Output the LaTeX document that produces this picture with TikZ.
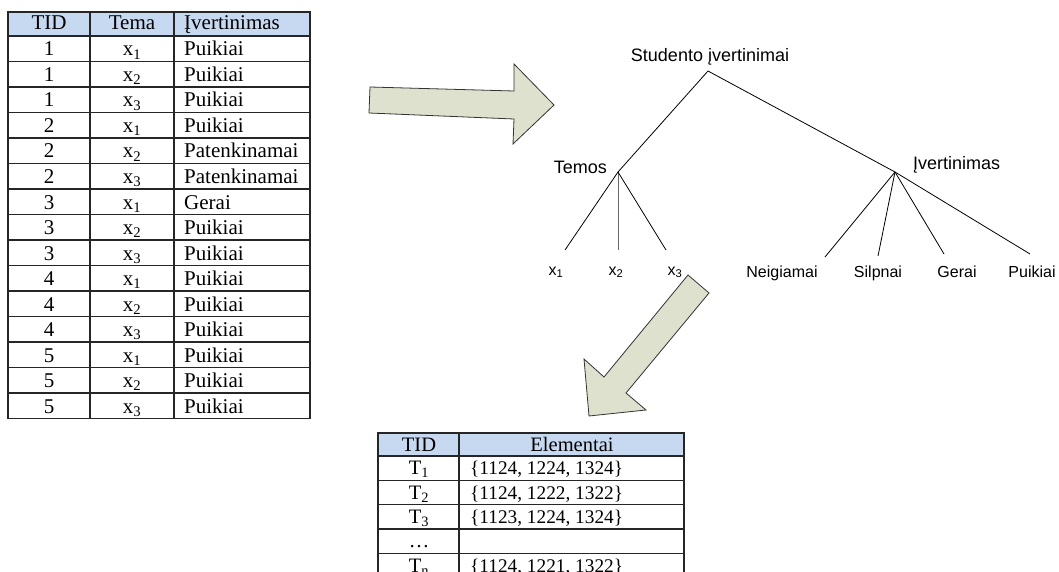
\documentclass[tikz,border=0pt]{standalone}
\usepackage{fontspec}
\setmainfont{Liberation Serif}
\newfontfamily\arialf{Liberation Sans}
\definecolor{headblue}{RGB}{198,217,241}
\definecolor{arrowfill}{RGB}{221,225,206}
\begin{document}
\begin{tikzpicture}[x=1pt,y=-1pt,
  grid/.style={line width=1.3pt, draw=black!85},
  tcell/.style={font=\fontsize{21}{21}\selectfont, inner sep=0pt, anchor=base},
  bcell/.style={font=\fontsize{20.5}{20.5}\selectfont, inner sep=0pt, anchor=base},
  bdata/.style={font=\fontsize{19.3}{19.3}\selectfont, inner sep=0pt, anchor=base west},
  tl/.style={font=\arialf\fontsize{18}{18}\selectfont, inner sep=0pt, anchor=base},
  leaf/.style={font=\arialf\fontsize{16}{16}\selectfont, inner sep=0pt, anchor=base},
  branch/.style={line width=0.8pt, draw=black},
  bigarrow/.style={fill=arrowfill, draw=black!80, line width=0.8pt, line join=miter}]
\useasboundingbox (0,0) rectangle (1059,572);
\clip (0,0) rectangle (1059,572);
\fill[white] (0,0) rectangle (1059,572);

% ---------- left table ----------
\fill[headblue] (8,12) rectangle (310,36);
\foreach \i in {0,1,2,3,4,5,6,7,8,9,10,11,12,13,14} \draw[grid] (8,{36+25.5*\i}) -- (310,{36+25.5*\i});
\draw[grid] (90,12) -- (90,418.5);
\draw[grid] (174,12) -- (174,418.5);
\draw[grid] (8,12) rectangle (310,418.5);
\node[tcell] (lh1) at (49,30) {TID};
\node[tcell] (lh2) at (132,30) {Tema};
\node[tcell,anchor=base west] (lh3) at (184,30) {Įvertinimas};
\foreach \t/\x/\v [count=\i] in {1/1/Puikiai,1/2/Puikiai,1/3/Puikiai,
  2/1/Puikiai,2/2/Patenkinamai,2/3/Patenkinamai,3/1/Gerai,3/2/Puikiai,3/3/Puikiai,
  4/1/Puikiai,4/2/Puikiai,4/3/Puikiai,5/1/Puikiai,5/2/Puikiai,5/3/Puikiai}{
  \pgfmathsetmacro\yb{36+25.5*\i-5.5}
  \node[tcell] (l\i-a) at (49,\yb) {\t};
  \node[tcell] (l\i-b) at (132,\yb) {x\textsubscript{\x}};
  \node[tcell,anchor=base west] (l\i-c) at (184,\yb) {\v};
}

% ---------- bottom table ----------
\fill[headblue] (378,433) rectangle (684,456);
\foreach \i in {0,1,2,3,4} \draw[grid] (378,{456+24.3*\i}) -- (684,{456+24.3*\i});
\draw[grid] (459,433) -- (459,580);
\draw[grid] (378,433) rectangle (684,577.5);
\node[bcell] (bh1) at (419,451) {TID};
\node[bcell] (bh2) at (572,451) {Elementai};
\foreach \t/\v [count=\i] in {T\textsubscript{1}/{\{1124, 1224, 1324\}},
  T\textsubscript{2}/{\{1124, 1222, 1322\}},
  T\textsubscript{3}/{\{1123, 1224, 1324\}},
  \dots/{},
  T\textsubscript{n}/{\{1124, 1221, 1322\}}}{
  \pgfmathsetmacro\yb{456+24.3*\i-5.5}
  \node[bcell] (b\i-a) at (419,\yb) {\t};
  \node[bdata] (b\i-b) at (470,\yb) {\v};
}

% ---------- big arrows ----------
\draw[bigarrow] (370,87) -- (514,91) -- (514,64) -- (554,105) -- (513,144)
  -- (514,119) -- (369,113) -- cycle;
\draw[bigarrow] (688,275) -- (709,293) -- (626,393) -- (646,410) -- (589,416)
  -- (584,359) -- (604,377) -- cycle;

% ---------- tree ----------
\node[tl] (root) at (710,62) {Studento įvertinimai};
\node[tl,anchor=base east] (temos) at (607,174) {Temos};
\node[tl,anchor=base west] (ivert) at (913,170) {Įvertinimas};
\coordinate (r) at (708,71);
\coordinate (tj) at (618,172);
\coordinate (ij) at (895,172);
\node[leaf] (x1) at (556,275) {x\textsubscript{1}};
\node[leaf] (x2) at (616,275) {x\textsubscript{2}};
\node[leaf] (x3) at (675,275) {x\textsubscript{3}};
\node[leaf] (neig) at (782,277) {Neigiamai};
\node[leaf] (silp) at (878,277) {Silpnai};
\node[leaf] (gerai) at (957,277) {Gerai};
\node[leaf] (puik) at (1032,277) {Puikiai};
\coordinate (e1) at (565,250);
\coordinate (e2) at (618,250);
\coordinate (e3) at (666,250);
\coordinate (e4) at (825,257);
\coordinate (e5) at (878,256);
\coordinate (e6) at (944,254);
\coordinate (e7) at (1030,254);
\draw[branch] (r) -- (tj);
\draw[branch] (r) -- (ij);
\draw[branch] (tj) -- (e1);
\draw[branch,draw=black!60] (tj) -- (e2);
\draw[branch] (tj) -- (e3);
\draw[branch] (ij) -- (e4);
\draw[branch] (ij) -- (e5);
\draw[branch] (ij) -- (e6);
\draw[branch] (ij) -- (e7);
\end{tikzpicture}
\end{document}
